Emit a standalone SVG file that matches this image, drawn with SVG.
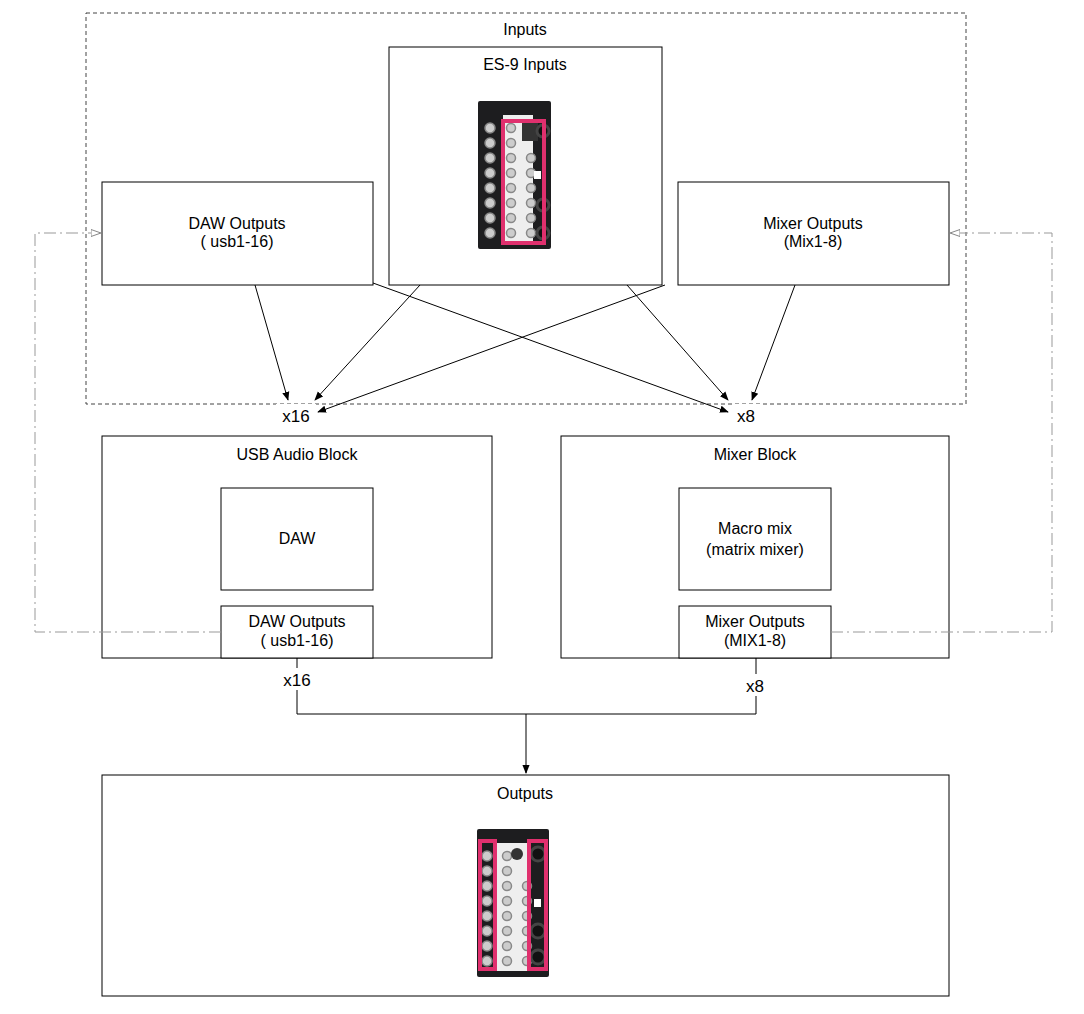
<svg xmlns="http://www.w3.org/2000/svg" width="1084" height="1014" viewBox="0 0 1084 1014">
<style>
text{font-family:"Liberation Sans",Arial,sans-serif;font-size:16px;fill:#000;text-anchor:middle}
.box{fill:#fff;stroke:#000;stroke-width:1}
.ln{fill:none;stroke:#000;stroke-width:1}
.dd{fill:none;stroke:#999;stroke-width:1;stroke-dasharray:12 4 2 4}
.lbl{font-size:17px}
.sj{fill:#ccc;stroke:#888;stroke-width:1.5}
.bj{fill:#111;stroke:#444;stroke-width:3}
</style>
<defs>
<marker id="ar" viewBox="0 0 10 10" refX="9" refY="5" markerWidth="9" markerHeight="9" orient="auto"><path d="M0,1L10,5L0,9z" fill="#000"/></marker>
<marker id="ao" viewBox="0 0 10 10" refX="9" refY="5" markerWidth="10" markerHeight="10" orient="auto"><path d="M0,1.5L10,5L0,8.5z" fill="#fff" stroke="#888"/></marker>
</defs>
<rect width="1084" height="1014" fill="#fff"/>
<g id="inputs">
<rect x="86" y="13" width="880" height="391" fill="none" stroke="#444" stroke-dasharray="4 3"/>
<text x="525" y="35">Inputs</text>
</g>
<g id="es9in">
<rect class="box" x="389" y="47" width="273" height="238"/>
<text x="525" y="70">ES-9 Inputs</text>
<g transform="translate(478,101)">
<rect width="73" height="148" fill="#1d1d1f" rx="2"/>
<rect x="25" y="14" width="30" height="128" fill="#eee"/>
<g class="sj">
<circle cx="12" cy="27" r="5"/><circle cx="12" cy="42" r="5"/><circle cx="12" cy="57" r="5"/><circle cx="12" cy="72" r="5"/><circle cx="12" cy="87" r="5"/><circle cx="12" cy="102" r="5"/><circle cx="12" cy="117" r="5"/><circle cx="12" cy="132" r="5"/>
<circle cx="33" cy="27" r="4.5"/><circle cx="33" cy="42" r="4.5"/><circle cx="33" cy="57" r="4.5"/><circle cx="33" cy="72" r="4.5"/><circle cx="33" cy="87" r="4.5"/><circle cx="33" cy="102" r="4.5"/><circle cx="33" cy="117" r="4.5"/><circle cx="33" cy="132" r="4.5"/>
<circle cx="53" cy="57" r="4.5"/><circle cx="53" cy="72" r="4.5"/><circle cx="53" cy="87" r="4.5"/><circle cx="53" cy="102" r="4.5"/><circle cx="53" cy="117" r="4.5"/><circle cx="53" cy="132" r="4.5"/>
</g>
<rect x="44" y="20" width="16" height="20" fill="#333"/>
<g class="bj"><circle cx="65" cy="30" r="6"/><circle cx="65" cy="104" r="6"/><circle cx="65" cy="132" r="6"/></g>
<rect x="56" y="70" width="7" height="8" fill="#fff"/>
<rect x="25" y="20" width="41" height="122" fill="none" stroke="#e0306e" stroke-width="4"/>
</g>
</g>
<g id="dawout">
<rect class="box" x="102" y="182" width="271" height="103"/>
<text x="237" y="229">DAW Outputs</text><text x="237" y="247">( usb1-16)</text>
</g>
<g id="mixout">
<rect class="box" x="678" y="182" width="271" height="103"/>
<text x="813" y="229">Mixer Outputs</text><text x="813" y="247">(Mix1-8)</text>
</g>
<g id="usb">
<rect class="box" x="102" y="436" width="390" height="222"/>
<text x="297" y="460">USB Audio Block</text>
</g>
<g id="daw"><rect class="box" x="221" y="488" width="152" height="102"/><text x="297" y="544">DAW</text></g>
<g id="dawout2"><rect class="box" x="221" y="606" width="152" height="52"/><text x="297" y="627">DAW Outputs</text><text x="297" y="646">( usb1-16)</text></g>
<g id="mixer">
<rect class="box" x="561" y="436" width="388" height="222"/>
<text x="755" y="460">Mixer Block</text>
</g>
<g id="macro"><rect class="box" x="679" y="488" width="152" height="102"/><text x="755" y="534">Macro mix</text><text x="755" y="555">(matrix mixer)</text></g>
<g id="mixout2"><rect class="box" x="679" y="606" width="152" height="52"/><text x="755" y="627">Mixer Outputs</text><text x="755" y="646">(MIX1-8)</text></g>
<g id="outputs">
<rect class="box" x="102" y="775" width="847" height="221"/>
<text x="525" y="799">Outputs</text>
<g transform="translate(477,829)">
<rect width="72" height="148" fill="#1d1d1f" rx="2"/>
<rect x="20" y="14" width="33" height="128" fill="#eee"/>
<g class="sj">
<circle cx="10" cy="27" r="5"/><circle cx="10" cy="42" r="5"/><circle cx="10" cy="57" r="5"/><circle cx="10" cy="72" r="5"/><circle cx="10" cy="87" r="5"/><circle cx="10" cy="102" r="5"/><circle cx="10" cy="117" r="5"/><circle cx="10" cy="132" r="5"/>
<circle cx="30" cy="27" r="4.5"/><circle cx="30" cy="42" r="4.5"/><circle cx="30" cy="57" r="4.5"/><circle cx="30" cy="72" r="4.5"/><circle cx="30" cy="87" r="4.5"/><circle cx="30" cy="102" r="4.5"/><circle cx="30" cy="117" r="4.5"/><circle cx="30" cy="132" r="4.5"/>
<circle cx="50" cy="57" r="4.5"/><circle cx="50" cy="72" r="4.5"/><circle cx="50" cy="87" r="4.5"/><circle cx="50" cy="102" r="4.5"/><circle cx="50" cy="117" r="4.5"/><circle cx="50" cy="132" r="4.5"/>
</g>
<circle cx="40" cy="25" r="6" fill="#333"/>
<g class="bj"><circle cx="61" cy="25" r="7"/><circle cx="61" cy="102" r="7"/><circle cx="61" cy="128" r="7"/></g>
<rect x="57" y="70" width="7" height="8" fill="#fff"/>
<rect x="3" y="12" width="15" height="128" fill="none" stroke="#e0306e" stroke-width="4"/>
<rect x="52" y="12" width="17" height="128" fill="none" stroke="#e0306e" stroke-width="4"/>
</g>
</g>
<g id="connectors">
<path class="dd" d="M221,632H35V233H100" marker-end="url(#ao)"/>
<path class="dd" d="M831,632H1052V233H951" marker-end="url(#ao)"/>
<path class="ln" d="M255,285L288,400" marker-end="url(#ar)"/>
<path class="ln" d="M420,285L315,400" marker-end="url(#ar)"/>
<path class="ln" d="M665,285L318,412" marker-end="url(#ar)"/>
<path class="ln" d="M373,283L728,412" marker-end="url(#ar)"/>
<path class="ln" d="M627,285L728,400" marker-end="url(#ar)"/>
<path class="ln" d="M795,285L752,400" marker-end="url(#ar)"/>
<path class="ln" d="M297,658V714H756V658"/>
<path class="ln" stroke-width="1.5" d="M526,714V773" marker-end="url(#ar)"/>
<rect x="276" y="404" width="40" height="22" fill="#fff"/>
<text class="lbl" x="296" y="422">x16</text>
<rect x="732" y="404" width="28" height="22" fill="#fff"/>
<text class="lbl" x="746" y="422">x8</text>
<rect x="277" y="668" width="40" height="22" fill="#fff"/>
<text class="lbl" x="297" y="686">x16</text>
<rect x="741" y="674" width="28" height="22" fill="#fff"/>
<text class="lbl" x="755" y="692">x8</text>
</g>
</svg>
